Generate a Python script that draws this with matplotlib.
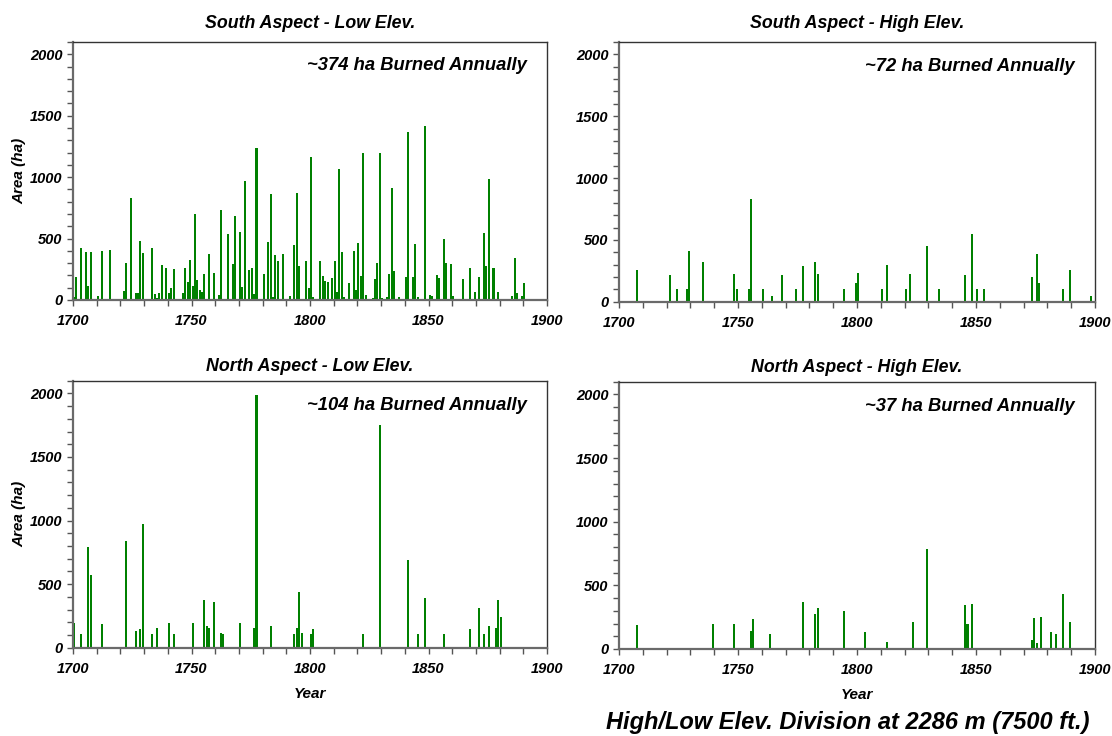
import matplotlib
matplotlib.use("Agg")
import matplotlib.pyplot as plt
from matplotlib.ticker import MultipleLocator

plt.rcParams['font.family'] = ['Liberation Sans', 'DejaVu Sans']

# ---- data (year, area in ha) ----
sl_years = [1700, 1701, 1703, 1704, 1705, 1706, 1707, 1710, 1712, 1715, 1721, 1722, 1724,
            1726, 1727, 1728, 1729, 1733, 1734, 1735, 1736, 1737, 1739, 1740, 1741, 1742,
            1743, 1746, 1747, 1748, 1749, 1750, 1751, 1752, 1753, 1754, 1755, 1757, 1759,
            1761, 1762, 1765, 1767, 1768, 1770, 1771, 1772, 1774, 1775, 1776, 1777, 1780,
            1782, 1783, 1784, 1785, 1786, 1788, 1791, 1793, 1794, 1795, 1798, 1799, 1800,
            1801, 1804, 1805, 1806, 1807, 1809, 1810, 1811, 1812, 1813, 1814, 1816, 1818,
            1819, 1820, 1821, 1822, 1823, 1826, 1827, 1828, 1829, 1830, 1832, 1833, 1834,
            1835, 1837, 1840, 1841, 1843, 1844, 1845, 1848, 1850, 1851, 1853, 1854, 1856,
            1857, 1859, 1860, 1864, 1867, 1869, 1871, 1873, 1874, 1875, 1877, 1879, 1885,
            1886, 1887, 1889, 1890]
sl_area = [27, 187, 423, 10, 390, 114, 390, 33, 398, 407, 73, 300, 829,
           57, 57, 480, 382, 423, 49, 19, 57, 285, 260, 57, 98, 252,
           11, 57, 260, 146, 325, 114, 699, 163, 81, 65, 211, 374, 220,
           41, 732, 537, 293, 683, 553, 106, 967, 244, 260, 49, 1236, 211,
           472, 862, 24, 366, 317, 374, 33, 447, 870, 276, 317, 98, 1163,
           24, 317, 195, 154, 146, 179, 317, 65, 1065, 390, 24, 138, 398,
           81, 463, 195, 1195, 41, 16, 171, 300, 1195, 16, 24, 211, 910,
           236, 24, 187, 1366, 187, 455, 24, 1415, 41, 33, 203, 179, 496,
           300, 293, 33, 171, 260, 65, 187, 545, 276, 984, 260, 65, 33,
           341, 57, 33, 138]

sh_years = [1707, 1721, 1724, 1728, 1729, 1735, 1748, 1749, 1754, 1755, 1760, 1764, 1768,
            1774, 1777, 1782, 1783, 1794, 1799, 1800, 1810, 1812, 1820, 1822, 1829, 1834,
            1845, 1848, 1850, 1853, 1873, 1875, 1876, 1886, 1889, 1898]
sh_area = [256, 216, 103, 103, 410, 321, 224, 103, 103, 832, 103, 46, 216,
           103, 289, 321, 224, 103, 151, 232, 103, 297, 103, 224, 451, 103,
           216, 548, 103, 103, 200, 386, 151, 103, 256, 46]

nl_years = [1700, 1703, 1706, 1707, 1712, 1722, 1726, 1728, 1729, 1733, 1735, 1740, 1742,
            1750, 1755, 1756, 1757, 1759, 1762, 1763, 1770, 1776, 1777, 1783, 1793, 1794,
            1795, 1796, 1800, 1801, 1822, 1829, 1841, 1845, 1848, 1856, 1867, 1871, 1873,
            1875, 1878, 1879, 1880]
nl_area = [197, 107, 792, 571, 186, 839, 131, 147, 972, 107, 155, 194, 107,
           194, 375, 170, 155, 359, 115, 107, 194, 155, 1987, 170, 107, 155,
           438, 115, 107, 147, 107, 1751, 689, 107, 391, 107, 147, 312, 107,
           170, 155, 375, 241]

nh_years = [1707, 1739, 1748, 1755, 1756, 1763, 1777, 1782, 1783, 1794, 1803, 1812, 1823,
            1829, 1845, 1846, 1848, 1873, 1874, 1875, 1877, 1881, 1883, 1886, 1889]
nh_area = [188, 196, 196, 141, 235, 117, 368, 274, 321, 297, 133, 55, 211,
           782, 344, 196, 352, 70, 243, 47, 250, 133, 117, 430, 211]

titles = ["South Aspect - Low Elev.", "South Aspect - High Elev.",
          "North Aspect - Low Elev.", "North Aspect - High Elev."]
annual = ["~374 ha Burned Annually", "~72 ha Burned Annually",
          "~104 ha Burned Annually", "~37 ha Burned Annually"]
footer = "High/Low Elev. Division at 2286 m (7500 ft.)"

W, H = 1112, 736
fig = plt.figure(figsize=(W / 100, H / 100), dpi=100)

# axes boxes in pixels: left, top, right, bottom
boxes = [(73, 42, 547, 300), (619, 42, 1095, 301.7),
         (73, 380.7, 547, 647.7), (619, 381.7, 1095, 649)]
series = [(sl_years, sl_area), (sh_years, sh_area),
          (nl_years, nl_area), (nh_years, nh_area)]

fb = dict(fontweight='bold', fontstyle='italic')

for i, ((l, t, r, b), (yrs, vals)) in enumerate(zip(boxes, series)):
    ax = fig.add_axes([l / W, 1 - b / H, (r - l) / W, (b - t) / H])
    ax.bar(yrs, vals, width=0.85, color='#008000', align='edge', linewidth=0)
    ax.set_xlim(1700, 1900)
    ax.set_ylim(0, 2100)
    ax.xaxis.set_major_locator(MultipleLocator(50))
    ax.xaxis.set_minor_locator(MultipleLocator(10))
    ax.yaxis.set_major_locator(MultipleLocator(500))
    ax.yaxis.set_minor_locator(MultipleLocator(100))
    ax.tick_params(axis='both', which='both', direction='out', color='#555555',
                   width=1, length=4, labelsize=10.5)
    ax.tick_params(axis='x', pad=6)
    for lab in ax.get_xticklabels() + ax.get_yticklabels():
        lab.set_fontweight('bold')
        lab.set_fontstyle('italic')
    for s in ['left', 'bottom']:
        ax.spines[s].set_color('#6a6a6a')
        ax.spines[s].set_linewidth(1.6)
    for s in ['top', 'right']:
        ax.spines[s].set_color('#333333')
        ax.spines[s].set_linewidth(1.0)
    ax.set_title(titles[i], fontsize=12.8, pad=(10 if i < 2 else 7), **fb)
    ax.text(0.957, 0.94, annual[i], transform=ax.transAxes, ha='right', va='top',
            fontsize=13.2, **fb)
    if i % 2 == 0:
        ax.set_ylabel("Area (ha)", fontsize=11, labelpad=3, **fb)
    if i >= 2:
        ax.set_xlabel("Year", fontsize=11, labelpad=8, **fb)

fig.text(1090 / W, 1 - 723 / H, footer, ha='right', va='center', fontsize=17, **fb)

fig.savefig("out.png", dpi=100)
